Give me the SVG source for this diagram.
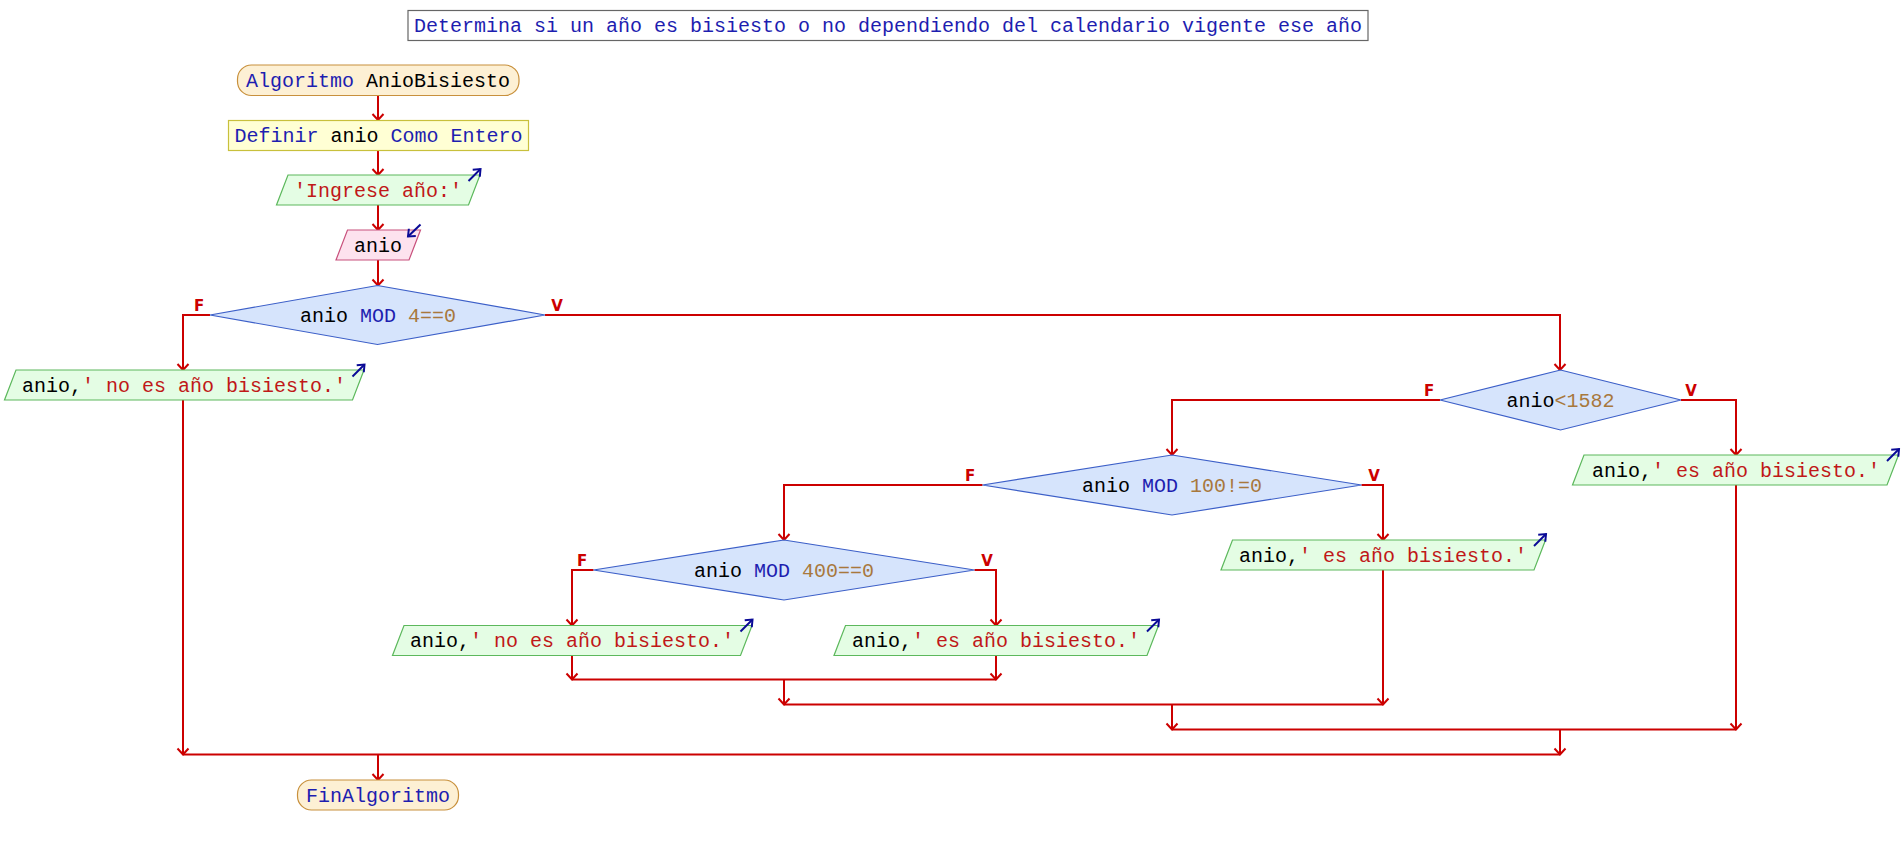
<svg xmlns="http://www.w3.org/2000/svg" width="1902" height="845" viewBox="0 0 1902 845">
<defs>
<style>
text{font-family:"Liberation Mono","DejaVu Sans Mono",monospace;font-size:20px;white-space:pre;text-anchor:middle;fill:#000}
.kw{fill:#1e1eb0}
.st{fill:#c01818}
.nu{fill:#a8783c}
.lbl{font-family:"DejaVu Sans",sans-serif;font-weight:bold;font-size:15px;fill:#cc0000}
.term{fill:#fdf0d4;stroke:#c8903c;stroke-width:1.2}
.def{fill:#ffffd4;stroke:#c8c03c;stroke-width:1.2}
.out{fill:#e4fde4;stroke:#5cb85c;stroke-width:1.2}
.inp{fill:#fde2ee;stroke:#c8507c;stroke-width:1.2}
.dec{fill:#d6e4fc;stroke:#3c5fc8;stroke-width:1.2}
.con{fill:none;stroke:#cc0000;stroke-width:2;marker-end:url(#ah)}
.ln{fill:none;stroke:#cc0000;stroke-width:2}
.ic{fill:none;stroke:#0a0a96;stroke-width:2;marker-end:url(#bh)}
</style>
<marker id="ah" viewBox="-8 -7 10 14" refX="0" refY="0" markerWidth="10" markerHeight="14" markerUnits="userSpaceOnUse" orient="auto">
<path d="M-6,-5.5 L0,0 L-6,5.5" fill="none" stroke="#cc0000" stroke-width="2"/>
</marker>
<marker id="bh" viewBox="-8 -7 10 14" refX="0" refY="0" markerWidth="10" markerHeight="14" markerUnits="userSpaceOnUse" orient="auto">
<path d="M-6,-5 L0,0 L-6,5" fill="none" stroke="#0a0a96" stroke-width="2"/>
</marker>
</defs>
<rect width="1902" height="845" fill="#ffffff"/>

<g id="title">
<rect x="408" y="10.5" width="960" height="30" fill="#ffffff" stroke="#666666" stroke-width="1.2"/>
<text x="888" y="32" class="kw">Determina si un año es bisiesto o no dependiendo del calendario vigente ese año</text>
</g>

<g id="connectors">
<path class="con" d="M378,95.5 V120"/>
<path class="con" d="M378,150.5 V175"/>
<path class="con" d="M378,205 V230"/>
<path class="con" d="M378,260 V285.5"/>
<path class="con" d="M210,315 H183 V370"/>
<path class="con" d="M183,400 V754.5"/>
<path class="con" d="M545,315 H1560 V370"/>
<path class="con" d="M1440,400 H1172 V455"/>
<path class="con" d="M1681,400 H1736 V455"/>
<path class="con" d="M1736,485 V729.5"/>
<path class="con" d="M982.5,485 H784 V540"/>
<path class="con" d="M1361.5,485 H1383 V540"/>
<path class="con" d="M1383,570 V704.5"/>
<path class="con" d="M593.5,570 H572 V625.5"/>
<path class="con" d="M974.5,570 H996 V625.5"/>
<path class="con" d="M572,655.5 V679.5"/>
<path class="con" d="M996,655.5 V679.5"/>
<path class="ln" d="M572,679.5 H996"/>
<path class="con" d="M784,679.5 V704.5"/>
<path class="ln" d="M784,704.5 H1383"/>
<path class="con" d="M1172,704.5 V729.5"/>
<path class="ln" d="M1172,729.5 H1736"/>
<path class="con" d="M1560,729.5 V754.5"/>
<path class="ln" d="M183,754.5 H1560"/>
<path class="con" d="M378,754.5 V780"/>
<text class="lbl" x="199" y="311">F</text>
<text class="lbl" x="557" y="311">V</text>
<text class="lbl" x="1429" y="396">F</text>
<text class="lbl" x="1691" y="396">V</text>
<text class="lbl" x="970" y="481">F</text>
<text class="lbl" x="1374" y="481">V</text>
<text class="lbl" x="582" y="566">F</text>
<text class="lbl" x="987" y="566">V</text>
</g>

<g id="start">
<rect class="term" x="237.5" y="65" width="281.5" height="30.5" rx="14" ry="14"/>
<text x="378" y="87"><tspan class="kw">Algoritmo</tspan> AnioBisiesto</text>
</g>

<g id="definir">
<rect class="def" x="228.5" y="120.5" width="300" height="30"/>
<text x="378.5" y="142"><tspan class="kw">Definir</tspan> anio <tspan class="kw">Como Entero</tspan></text>
</g>

<g id="escribir1">
<polygon class="out" points="288,175 480,175 468.5,205 276.5,205"/>
<text x="378" y="196.5" class="st">'Ingrese año:'</text>
<path class="ic" d="M468.5,181 L480.5,169"/>
</g>

<g id="leer">
<polygon class="inp" points="347.5,230 420.5,230 409,260 336,260"/>
<text x="378" y="251.5">anio</text>
<path class="ic" d="M420.5,224.5 L408,236.5"/>
</g>

<g id="dec1">
<polygon class="dec" points="377.5,285.5 545,315 377.5,344.5 210,315"/>
<text x="378" y="321.5">anio <tspan class="kw">MOD</tspan> <tspan class="nu">4==0</tspan></text>
</g>

<g id="out_noes1">
<polygon class="out" points="16,370 364,370 352.5,400 4.5,400"/>
<text x="184" y="391.5">anio,<tspan class="st">' no es año bisiesto.'</tspan></text>
<path class="ic" d="M352.5,376.5 L364.5,364.5"/>
</g>

<g id="dec2">
<polygon class="dec" points="1560.5,370 1681,400 1560.5,430 1440,400"/>
<text x="1560.5" y="406.5">anio<tspan class="nu">&lt;1582</tspan></text>
</g>

<g id="out_es1">
<polygon class="out" points="1584,455 1898.5,455 1887,485 1572.5,485"/>
<text x="1736" y="476.5">anio,<tspan class="st">' es año bisiesto.'</tspan></text>
<path class="ic" d="M1887,461 L1899,449"/>
</g>

<g id="dec3">
<polygon class="dec" points="1172,455 1361.5,485 1172,515 982.5,485"/>
<text x="1172" y="491.5">anio <tspan class="kw">MOD</tspan> <tspan class="nu">100!=0</tspan></text>
</g>

<g id="out_es2">
<polygon class="out" points="1232.5,540 1545.5,540 1534,570 1221,570"/>
<text x="1383" y="561.5">anio,<tspan class="st">' es año bisiesto.'</tspan></text>
<path class="ic" d="M1534,546 L1546,534"/>
</g>

<g id="dec4">
<polygon class="dec" points="784,540 974.5,570 784,600 593.5,570"/>
<text x="784" y="576.5">anio <tspan class="kw">MOD</tspan> <tspan class="nu">400==0</tspan></text>
</g>

<g id="out_noes2">
<polygon class="out" points="404,625.5 752,625.5 740.5,655.5 392.5,655.5"/>
<text x="572" y="647">anio,<tspan class="st">' no es año bisiesto.'</tspan></text>
<path class="ic" d="M740.5,631.5 L752.5,619.5"/>
</g>

<g id="out_es3">
<polygon class="out" points="845.5,625.5 1158.5,625.5 1147,655.5 834,655.5"/>
<text x="996" y="647">anio,<tspan class="st">' es año bisiesto.'</tspan></text>
<path class="ic" d="M1147,631.5 L1159,619.5"/>
</g>

<g id="end">
<rect class="term" x="297.5" y="780" width="161" height="30" rx="14" ry="14"/>
<text x="378" y="801.5" class="kw">FinAlgoritmo</text>
</g>
</svg>
